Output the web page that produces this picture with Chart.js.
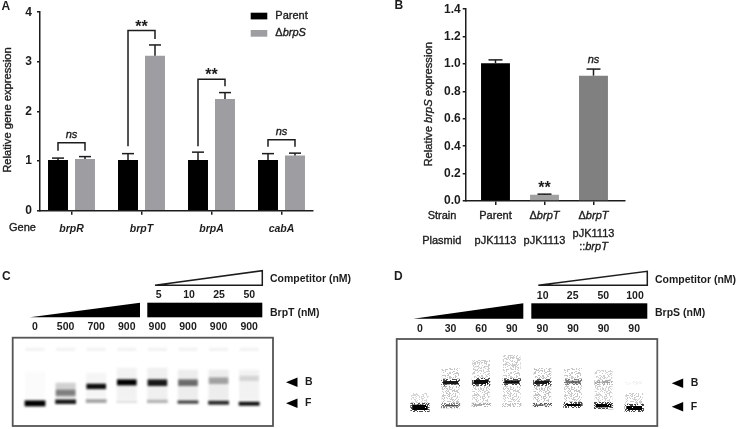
<!DOCTYPE html>
<html>
<head>
<meta charset="utf-8">
<title>Relative expression and gel shift panels</title>
<script src="https://cdn.jsdelivr.net/npm/chart.js@4"></script>
<style>
    html, body { margin: 0; padding: 0; background: #fff; }
    #page { position: relative; width: 738px; height: 429px; overflow: hidden; filter: blur(0.3px); }
    #page canvas { position: absolute; left: 0; top: 0; }
</style>
</head>
<body>
<div id="page">
    <canvas id="chartA" width="738" height="429"></canvas>
    <canvas id="chartB" width="738" height="429"></canvas>
    <canvas id="chartC" width="738" height="429"></canvas>
    <canvas id="chartD" width="738" height="429"></canvas>
</div>
<script>
// Panel A: relative gene expression
const genes = ['brpR', 'brpT', 'brpA', 'cabA'];
const parentValues = [1.02, 1.02, 1.02, 1.02];
const mutantValues = [1.04, 3.12, 2.25, 1.11];
const parentErrorTops = [1.06, 1.15, 1.18, 1.15];
const mutantErrorTops = [1.09, 3.34, 2.38, 1.16];
const bracketTops = [1.37, 3.63, 2.65, 1.43];
const bracketLeftEnds = [1.21, 1.30, 1.30, 1.29];
const bracketRightEnds = [1.21, 3.46, 2.51, 1.29];
const bracketMarks = ['ns', '**', '**', 'ns'];
const bracketMarkLevels = [1.53, 3.76, 2.79, 1.58];

// Panel B: relative brpS expression
const strains = ['Parent', 'Δ*brpT*', 'Δ*brpT*'];
const plasmids = [['pJK1113'], ['pJK1113'], ['pJK1113', '::*brpT*']];
const brpSValues = [1.005, 0.045, 0.915];
const brpSErrorTops = [1.03, 0.05, 0.963];
const brpSColors = ['#000000', '#a0a0a0', '#808080'];
const brpSMarks = ['', '**', 'ns'];
const brpSMarkLevels = [0, 0.115, 1.033];

// Panel C: BrpT gel, band limits in px of migration from the top of the gel
const brpTLanes = ['0', '500', '700', '900', '900', '900', '900', '900'];
const brpTCompetitor = ['5', '10', '25', '50'];
const brpTWells = [[10, 13.3], [10, 13.3], [10, 13.3], [10, 13.3], [10, 13.3], [10, 13.3], [10, 13.3], [10, 13.3]];
const brpTSmear = [[34, 62], [45, 60], [35, 60], [30, 62], [30, 62], [32, 62], [32, 62], [32, 62]];
const brpTSmearDensity = [0.015, 0.18, 0.04, 0.05, 0.06, 0.07, 0.07, 0.05];
const brpTBound = [null, [52, 58], [46, 51.4], [41.7, 47.7], [41.7, 48.3], [41.7, 48.3], [39.7, 46.3], [38, 43.4]];
const brpTBoundDensity = [0, 0.4, 0.95, 1, 0.9, 0.55, 0.32, 0.12];
const brpTFree = [[62.7, 68.7], [61.7, 66.3], [61.3, 65.3], [62.7, 65.3], [62, 65.4], [62.7, 66], [63, 67], [64, 68]];
const brpTFreeDensity = [1, 0.9, 0.35, 0.12, 0.3, 0.75, 0.85, 0.95];

// Panel D: BrpS gel
const brpSLanes = ['0', '30', '60', '90', '90', '90', '90', '90'];
const brpSCompetitor = ['10', '25', '50', '100'];
const brpSSmear = [[54, 64], [29, 64], [21, 63], [16, 63], [29, 63], [29, 63], [31, 63], [54, 66]];
const brpSSmearDensity = [0.16, 0.22, 0.2, 0.2, 0.24, 0.22, 0.18, 0.2];
const brpSBound = [null, [40, 47.4], [39, 47], [39.3, 46.7], [39.7, 47], [39.7, 46.3], [40.7, 46], [41.7, 45.7]];
const brpSBoundDensity = [0, 0.9, 0.95, 0.95, 0.9, 0.55, 0.25, 0.08];
const brpSFree = [[63.7, 73], [64, 69.4], [63.4, 68], [64, 68], [63.7, 68.3], [63, 69], [63, 70.4], [65, 73]];
const brpSFreeDensity = [1, 0.7, 0.45, 0.35, 0.9, 1, 1, 1];

const PAGE_W = 738;
const PAGE_H = 429;
const INK = '#1c1c1c';
const FONT = '"Liberation Sans", Arial, sans-serif';

Chart.defaults.font.family = FONT;
Chart.defaults.color = INK;
Chart.defaults.animation = false;
Chart.defaults.responsive = false;
Chart.defaults.plugins.legend.display = false;
Chart.defaults.plugins.tooltip.enabled = false;

// Text with *italic* parts, centred on y. Regular text gets a thin stroke, the source is heavy
function drawRuns(ctx, str, x, y, size, opts = {}) {
    const weight = opts.bold ? 'bold ' : '';
    const parts = str.split('*');
    const fontFor = i => `${i % 2 ? 'italic ' : ''}${weight}${size}px ${FONT}`;
    let width = 0;
    parts.forEach((p, i) => {
        ctx.font = fontFor(i);
        width += ctx.measureText(p).width;
    });
    let cursor = opts.align === 'center' ? x - width / 2 : x;
    ctx.textAlign = 'left';
    ctx.textBaseline = 'middle';
    ctx.fillStyle = INK;
    ctx.strokeStyle = INK;
    ctx.lineWidth = 0.35;
    parts.forEach((p, i) => {
        ctx.font = fontFor(i);
        ctx.fillText(p, cursor, y);
        if (!opts.bold) ctx.strokeText(p, cursor, y);
        cursor += ctx.measureText(p).width;
    });
}

function drawRotated(ctx, str, x, y, size) {
    ctx.save();
    ctx.translate(x, y);
    ctx.rotate(-Math.PI / 2);
    drawRuns(ctx, str, 0, 0, size, { align: 'center' });
    ctx.restore();
}

function drawPath(ctx, points, fill, stroke) {
    ctx.beginPath();
    points.forEach((p, i) => (i ? ctx.lineTo(p[0], p[1]) : ctx.moveTo(p[0], p[1])));
    ctx.closePath();
    if (fill) {
        ctx.fillStyle = fill;
        ctx.fill();
    }
    if (stroke) {
        ctx.strokeStyle = stroke;
        ctx.lineWidth = 1.5;
        ctx.stroke();
    }
}

function drawLine(ctx, points, width = 1.5) {
    ctx.beginPath();
    points.forEach((p, i) => (i ? ctx.lineTo(p[0], p[1]) : ctx.moveTo(p[0], p[1])));
    ctx.strokeStyle = INK;
    ctx.lineWidth = width;
    ctx.stroke();
}

function drawErrorBars(chart, datasetIndex, tops, cap) {
    const ctx = chart.ctx;
    const yScale = chart.scales.y;
    chart.getDatasetMeta(datasetIndex).data.forEach((bar, i) => {
        const top = yScale.getPixelForValue(tops[i]);
        drawLine(ctx, [[bar.x, bar.y], [bar.x, top]]);
        drawLine(ctx, [[bar.x - cap / 2, top], [bar.x + cap / 2, top]]);
    });
}

function drawMark(ctx, mark, x, y) {
    if (mark === '**') {
        ctx.font = `bold 16px ${FONT}`;
        ctx.textAlign = 'center';
        ctx.textBaseline = 'middle';
        ctx.fillStyle = INK;
        ctx.fillText(mark, x, y + 3);
    } else if (mark) {
        drawRuns(ctx, `*${mark}*`, x, y, 11, { align: 'center' });
    }
}

// Places the plot area exactly, axes keep the size given here
function placePlot(left, top, right, bottom, axisW, axisH, axisOnTop) {
    return {
        autoPadding: false,
        padding: {
            left: left - axisW,
            top: axisOnTop ? top - axisH : top,
            right: PAGE_W - right,
            bottom: axisOnTop ? PAGE_H - bottom : PAGE_H - bottom - axisH
        }
    };
}

const laneTicks = count => axis => {
    axis.ticks = Array.from({ length: count }, (_, i) => ({ value: i }));
};

const barY = (min, max, stepSize, width, labelGap, format) => ({
    min,
    max,
    border: { color: INK, width: 1.5 },
    grid: { drawOnChartArea: false, color: INK, lineWidth: 1.5, tickLength: 3 },
    ticks: { stepSize, padding: labelGap, font: { size: 12, weight: 'bold' }, color: INK, callback: format },
    afterFit: s => { s.width = width; }
});

const barX = (min, max, count, height, font, labelFor) => ({
    type: 'linear',
    min,
    max,
    offset: false,
    border: { color: INK, width: 1.5 },
    grid: { offset: false, drawOnChartArea: false, color: INK, lineWidth: 1.5, tickLength: 4 },
    ticks: { padding: 8, font, color: INK, maxRotation: 0, autoSkip: false, callback: labelFor },
    afterBuildTicks: laneTicks(count),
    afterFit: s => { s.height = height; }
});

const toPoints = values => values.map((y, x) => ({ x, y }));

new Chart(document.getElementById('chartA'), {
    type: 'bar',
    data: {
        datasets: [
            { label: 'Parent', data: toPoints(parentValues), backgroundColor: '#000000' },
            { label: 'Δ*brpS*', data: toPoints(mutantValues), backgroundColor: '#9e9ea2' }
        ]
    },
    options: {
        layout: placePlot(40, 10.7, 313, 210.7, 40, 29.3),
        datasets: { bar: { categoryPercentage: 0.771, barPercentage: 0.74 } },
        scales: {
            x: barX(-0.45, 3.45, genes.length, 29.3, { size: 10.5, weight: 'bold', style: 'italic' }, v => genes[v]),
            y: barY(0, 4, 1, 40, 5)
        }
    },
    plugins: [{
        id: 'panelA',
        afterDatasetsDraw(chart) {
            const ctx = chart.ctx;
            const y = chart.scales.y;
            drawErrorBars(chart, 0, parentErrorTops, 12);
            drawErrorBars(chart, 1, mutantErrorTops, 12);
            const left = chart.getDatasetMeta(0).data;
            const right = chart.getDatasetMeta(1).data;
            genes.forEach((g, i) => {
                const top = y.getPixelForValue(bracketTops[i]);
                drawLine(ctx, [
                    [left[i].x, y.getPixelForValue(bracketLeftEnds[i])],
                    [left[i].x, top],
                    [right[i].x, top],
                    [right[i].x, y.getPixelForValue(bracketRightEnds[i])]
                ]);
                drawMark(ctx, bracketMarks[i], (left[i].x + right[i].x) / 2, y.getPixelForValue(bracketMarkLevels[i]));
            });
            // legend
            chart.data.datasets.forEach((d, i) => {
                const top = 12.7 + i * 17.3;
                ctx.fillStyle = d.backgroundColor;
                ctx.fillRect(250.7, top, 16.6, 6.7);
                drawRuns(ctx, d.label, 275.3, top + 3.3, 11);
            });
            drawRuns(ctx, 'A', 1.5, 7, 12, { bold: true });
            drawRuns(ctx, 'Gene', 9, 228, 11);
            drawRotated(ctx, 'Relative gene expression', 7.5, 110, 11.2);
        }
    }]
});

new Chart(document.getElementById('chartB'), {
    type: 'bar',
    data: {
        datasets: [{ data: toPoints(brpSValues), backgroundColor: brpSColors }]
    },
    options: {
        layout: placePlot(465.7, 6.7, 625, 201, 95.7, 20),
        datasets: { bar: { categoryPercentage: 1, barPercentage: 0.59 } },
        scales: {
            x: barX(-0.608, 2.643, strains.length, 20, { size: 1 }, () => ''),
            y: barY(0, 1.4, 0.2, 95.7, 2, v => v.toFixed(1))
        }
    },
    plugins: [{
        id: 'panelB',
        afterDatasetsDraw(chart) {
            const ctx = chart.ctx;
            const x = chart.scales.x;
            const y = chart.scales.y;
            drawErrorBars(chart, 0, brpSErrorTops, 14);
            strains.forEach((s, i) => {
                const cx = x.getPixelForValue(i);
                drawMark(ctx, brpSMarks[i], cx, y.getPixelForValue(brpSMarkLevels[i]));
                drawRuns(ctx, s, cx, 216, 11, { align: 'center' });
                const rows = plasmids[i];
                rows.forEach((row, r) => {
                    const rowY = rows.length > 1 ? 234 + r * 13 : 240.7;
                    drawRuns(ctx, row, cx, rowY, 11, { align: 'center' });
                });
            });
            drawRuns(ctx, 'B', 394.5, 5.5, 12, { bold: true });
            drawRuns(ctx, 'Strain', 442, 216, 11, { align: 'center' });
            drawRuns(ctx, 'Plasmid', 441.7, 240.7, 11, { align: 'center' });
            drawRotated(ctx, 'Relative *brpS* expression', 428.7, 104.3, 11.2);
        }
    }]
});

// Grainy fill for panel D, the grain comes from a fixed hash of the tile position
function speckle(density, coverage) {
    const tile = document.createElement('canvas');
    tile.width = tile.height = 61;
    const t = tile.getContext('2d');
    t.fillStyle = `rgba(0,0,0,${density})`;
    for (let i = 0; i < 61; i++) {
        for (let j = 0; j < 61; j++) {
            const h = Math.sin(i * 12.9898 + j * 78.233) * 43758.5453;
            if (h - Math.floor(h) < coverage) t.fillRect(i, j, 1, 1);
        }
    }
    return t.createPattern(tile, 'repeat');
}

const shade = densities => densities.map(a => `rgba(0,0,0,${a})`);
const grainHalo = densities => densities.map(a => speckle(a * 0.7, 0.5));
const grainCore = densities => densities.map(a => speckle(a, 0.97));

function gelChart(id, cfg) {
    const band = b => ({
        data: toPoints(b.data),
        backgroundColor: b.color,
        borderColor: b.halo,
        borderWidth: b.halo ? 2 : 0,
        borderSkipped: false,
        barPercentage: b.width,
        categoryPercentage: 1,
        grouped: false
    });
    new Chart(document.getElementById(id), {
        type: 'bar',
        data: { datasets: cfg.bands.map(band) },
        options: {
            layout: placePlot(cfg.frame[0], cfg.frame[1], cfg.frame[2], cfg.frame[3], 0, 20, true),
            scales: {
                x: {
                    type: 'linear',
                    position: 'top',
                    min: cfg.xRange[0],
                    max: cfg.xRange[1],
                    offset: false,
                    border: { display: false },
                    grid: { display: false, drawTicks: false, offset: false },
                    ticks: {
                        padding: 4,
                        font: { size: 10.5, weight: 'bold' },
                        color: INK,
                        maxRotation: 0,
                        autoSkip: false,
                        callback: v => cfg.lanes[v]
                    },
                    afterBuildTicks: laneTicks(cfg.lanes.length),
                    afterFit: s => { s.height = 20; }
                },
                y: { display: false, reverse: true, min: 0, max: cfg.depth }
            }
        },
        plugins: [{
            id: 'gel',
            beforeDatasetsDraw(chart) {
                chart.ctx.filter = `blur(${cfg.blur}px)`;
            },
            afterDatasetsDraw(chart) {
                const ctx = chart.ctx;
                const area = chart.chartArea;
                ctx.filter = 'none';
                ctx.strokeStyle = '#555555';
                ctx.lineWidth = 1.8;
                ctx.strokeRect(area.left, area.top, area.width, area.height);

                const w = cfg.wedge;
                drawPath(ctx, [[w.x0, w.bottom], [w.x1, w.top], [w.x1, w.bottom]], '#000000');
                ctx.fillStyle = '#000000';
                ctx.fillRect(w.x2, w.top, w.x3 - w.x2, w.bottom - w.top);
                const c = cfg.competitor;
                drawPath(ctx, [[c.x0, c.bottom], [c.x1, c.top], [c.x1, c.bottom]], '#ffffff', INK);
                cfg.competitorLabels.forEach((label, i) => {
                    drawRuns(ctx, label, cfg.competitorX[i], c.labelY, 10.5, { bold: true, align: 'center' });
                });
                drawRuns(ctx, 'Competitor (nM)', cfg.textX, c.textY, 10.5, { bold: true });
                drawRuns(ctx, cfg.protein, cfg.textX, w.textY, 10.5, { bold: true });
                drawRuns(ctx, cfg.letter, cfg.letterX, 276.5, 12, { bold: true });

                cfg.arrows.forEach(a => {
                    drawPath(ctx, [[a.x, a.y], [a.x + 11.5, a.y - 4.8], [a.x + 11.5, a.y + 4.8]], '#000000');
                    drawRuns(ctx, a.label, a.x + 19, a.y, 10.5, { bold: true });
                });
            }
        }]
    });
}

gelChart('chartC', {
    letter: 'C',
    letterX: 2,
    protein: 'BrpT (nM)',
    lanes: brpTLanes,
    competitorLabels: brpTCompetitor,
    competitorX: [158.7, 189, 219, 249.3],
    frame: [12.7, 337.7, 273, 426],
    xRange: [-0.73, 7.78],
    depth: 88.3,
    blur: 1.2,
    bands: [
        { data: brpTWells, color: 'rgba(0,0,0,0.05)', width: 0.62 },
        { data: brpTSmear, color: shade(brpTSmearDensity), width: 0.66 },
        { data: brpTBound, color: shade(brpTBoundDensity), width: 0.64 },
        { data: brpTFree, color: shade(brpTFreeDensity), width: 0.68 }
    ],
    wedge: { x0: 30, x1: 140, x2: 147.3, x3: 262.3, top: 302.7, bottom: 317.3, textY: 313.3 },
    competitor: { x0: 155, x1: 262.3, top: 270.7, bottom: 285.3, labelY: 295.3, textY: 279.3 },
    textX: 270,
    arrows: [{ x: 286, y: 382.3, label: 'B' }, { x: 286, y: 403.3, label: 'F' }]
});

gelChart('chartD', {
    letter: 'D',
    letterX: 394,
    protein: 'BrpS (nM)',
    lanes: brpSLanes,
    competitorLabels: brpSCompetitor,
    competitorX: [542.7, 572.7, 603.3, 635],
    frame: [396.7, 339, 657.3, 426],
    xRange: [-0.76, 7.755],
    depth: 87,
    blur: 0.7,
    bands: [
        { data: brpSSmear, color: brpSSmearDensity.map(a => speckle(a, 0.4)), width: 0.58 },
        { data: brpSBound, color: grainCore(brpSBoundDensity), halo: grainHalo(brpSBoundDensity), width: 0.62 },
        { data: brpSFree, color: grainCore(brpSFreeDensity), halo: grainHalo(brpSFreeDensity), width: 0.64 }
    ],
    wedge: { x0: 413.3, x1: 523.3, x2: 531.3, x3: 647.3, top: 303.3, bottom: 318.7, textY: 313.3 },
    competitor: { x0: 538.3, x1: 647.3, top: 271.3, bottom: 285.3, labelY: 296, textY: 280 },
    textX: 655,
    arrows: [{ x: 671.7, y: 383.3, label: 'B' }, { x: 671.7, y: 406.7, label: 'F' }]
});
</script>
</body>
</html>
